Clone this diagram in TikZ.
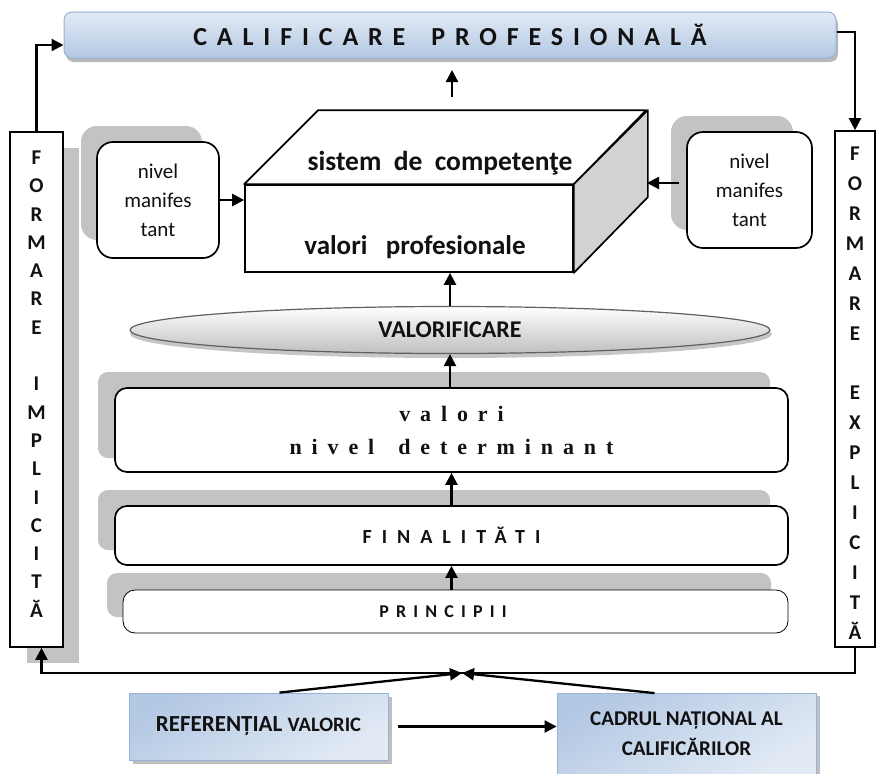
\documentclass[tikz,border=0pt]{standalone}
\usepackage{fontspec}
\setmainfont{Carlito}
\newfontfamily\tnr{Liberation Serif}
\usetikzlibrary{arrows.meta,shapes.geometric,calc}
\definecolor{shd}{HTML}{C3C3C3}
\definecolor{bnA}{HTML}{E2EAF5}
\definecolor{bnB}{HTML}{B3C8E3}
\definecolor{bnE}{HTML}{95B3D7}
\definecolor{cubeside}{HTML}{D2D2D2}
\definecolor{txt}{HTML}{111111}
\tikzset{
  conn/.style={line width=2.3pt, -{Triangle[length=12pt,width=12pt]}},
  plainline/.style={line width=2.3pt},
  whitebox/.style={draw, fill=white, line width=1.7pt, rounded corners=12pt, inner sep=0, text=txt},
  vbox/.style={draw, fill=white, line width=1.7pt, inner sep=0},
  vtext/.style={align=center, inner sep=0, text=txt},
  bluebox/.style={draw=bnE, line width=0.8pt, top color=bnB, bottom color=bnA, shading angle=30, inner sep=0, align=center, text=txt},
  nivbox/.style={draw, fill=white, line width=1.7pt, rounded corners=16pt, inner sep=0, align=center,
    font=\fontsize{21}{29}\selectfont, text=txt}
}
\begin{document}
\begin{tikzpicture}[x=1pt,y=-1pt]
\useasboundingbox (0,0) rectangle (876,774);
% shadows
\fill[shd] (27,148) rectangle (79,663);
\fill[shd, rounded corners=16pt] (81,126) rectangle (202,240);
\fill[shd, rounded corners=16pt] (671,116) rectangle (793,230);
\fill[shd, rounded corners=10pt] (98,372) rectangle (770,458);
\fill[shd, rounded corners=10pt] (98,490) rectangle (770,550);
\fill[shd, rounded corners=10pt] (107,573) rectangle (771,617);
\fill[gray!55, rounded corners=8pt] (66,16) rectangle (838,62);
\fill[gray!50] (133,697) rectangle (392,764);
\fill[gray!50] (561,696) rectangle (820,777);
\fill[gray!45] (451,334) ellipse [x radius=321pt, y radius=24pt];

% banner
\node[draw=bnE, line width=1pt, rounded corners=8pt, top color=bnA, bottom color=bnB,
      minimum width=772pt, minimum height=46pt, inner sep=0, text=txt,
      font=\fontsize{26}{28}\selectfont\bfseries] (cal) at (450,35)
  {\addfontfeature{LetterSpace=38}CALIFICARE\hspace{26pt}PROFESIONALĂ};

% vertical boxes
\node[vbox, minimum width=53pt, minimum height=515pt] (L) at (36.5,389.5) {};
\node[vtext, font=\fontsize{21}{28.3}\selectfont\bfseries] (Ltxt) at (36.5,384)
  {F\\O\\R\\M\\A\\R\\E\\\mbox{}\\I\\M\\P\\L\\I\\C\\I\\T\\Ă};
\node[vbox, minimum width=40pt, minimum height=516pt] (R) at (855,389) {};
\node[vtext, font=\fontsize{21}{29.9}\selectfont\bfseries] (Rtxt) at (855,393)
  {F\\O\\R\\M\\A\\R\\E\\\mbox{}\\E\\X\\P\\L\\I\\C\\I\\T\\Ă};

% nivel boxes
\node[nivbox, minimum width=122pt, minimum height=116pt] (nivL) at (158,200) {nivel\\manifes\\tant};
\node[nivbox, minimum width=125pt, minimum height=116pt] (nivR) at (749.5,190) {nivel\\manifes\\tant};

% cube
\node[draw, fill=white, line width=1.7pt, minimum width=328pt, minimum height=87pt, inner sep=0] (cubeF) at (409,228.5) {};
\draw[line width=1.7pt, fill=white, line join=round] (cubeF.north west) -- ++(74,-74) -- ++(328,0) -- (cubeF.north east) -- cycle;
\draw[line width=1.7pt, fill=cubeside, line join=round] (cubeF.north east) -- ++(74,-74) -- ++(0,87) -- (cubeF.south east) -- cycle;
\node[text=txt, font=\fontsize{27.5}{32}\selectfont\bfseries] (sc) at (440,163) {sistem~~de~~competenţe};
\node[text=txt, font=\fontsize{27}{32}\selectfont\bfseries] (vp) at (415,247) {valori~~~profesionale};
\coordinate (cubeR) at (647,183);

% ellipse
\node[ellipse, draw=gray!75!black, line width=1.2pt, top color=white, bottom color=gray!50,
      minimum width=640pt, minimum height=47pt, inner sep=0, text=txt,
      font=\fontsize{24}{28}\selectfont\bfseries] (ell) at (450,330) {VALORIFICARE};

% level boxes
\node[whitebox, minimum width=673pt, minimum height=84pt, align=center,
      font=\tnr\bfseries\fontsize{22}{33}\selectfont] (val) at (451.5,430)
  {\addfontfeature{LetterSpace=45}valori\\\addfontfeature{LetterSpace=45}nivel\hspace{24pt}determinant};
\node[whitebox, minimum width=673pt, minimum height=59pt,
      font=\fontsize{20}{24}\selectfont\bfseries] (fin) at (451.5,535.5)
  {\addfontfeature{LetterSpace=50}FINALITĂTI};
\node[whitebox, line width=0.8pt, minimum width=665pt, minimum height=43pt] (pri) at (455.5,611.5) {};
\node[text=txt, font=\fontsize{18}{22}\selectfont\bfseries] (pritxt) at (443,611.5)
  {\addfontfeature{LetterSpace=40}PRINCIPII};

% bottom boxes
\node[bluebox, minimum width=259pt, minimum height=67pt, font=\fontsize{23}{28}\selectfont\bfseries] (ref) at (258.5,726.5)
  {REFERENȚIAL {\fontsize{20.5}{24}\selectfont VALORIC}};
\node[bluebox, minimum width=259pt, minimum height=81pt, font=\fontsize{21}{30}\selectfont\bfseries] (cad) at (686.5,734)
  {CADRUL NAȚIONAL AL\\CALIFICĂRILOR};

% connectors
\coordinate (ta1) at (452,97);
\coordinate (ta2) at (452,70);
\draw[conn] (ta1) -- (ta2);
\draw[conn] (L.north) |- ([yshift=-10pt]cal.west);
\draw[conn] ([yshift=3pt]cal.east) -| (R.north);
\draw[conn] (nivL.east) -- (nivL.east -| cubeF.west);
\draw[conn] ([xshift=-7pt]nivR.west |- cubeR) -- (cubeR);
\draw[conn] (ell.north) -- (ell.north |- cubeF.south);
\draw[conn] (val.north -| ell.south) -- (ell.south);
\draw[conn] (fin.north) -- (val.south);
\draw[conn] (pri.north -| fin.south) -- (fin.south);
\coordinate (J) at (462,673);
\draw[plainline] (R.south) |- (J);
\draw[conn] (J) -| ([xshift=5pt]L.south);
\draw[conn] ([xshift=21pt]ref.north) -- (J);
\draw[conn] ([xshift=-32pt]cad.north) -- (J);
\draw[conn] ([xshift=10pt]ref.east) -- (ref.east -| cad.west);
\end{tikzpicture}
\end{document}
